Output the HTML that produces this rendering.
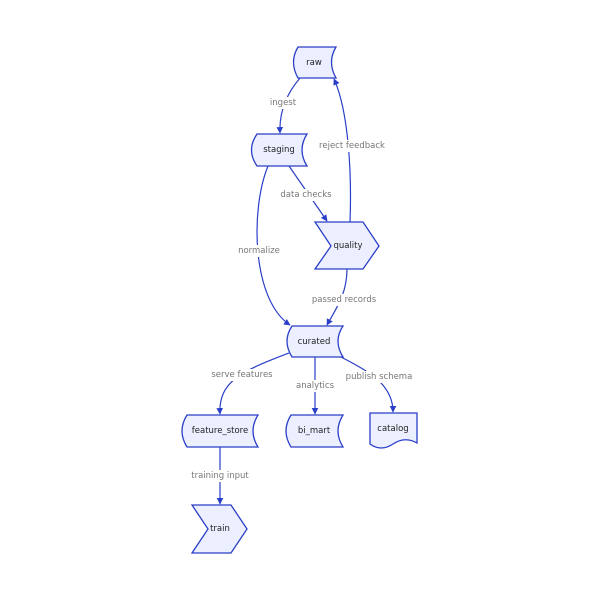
<!DOCTYPE html>
<html><head><meta charset="utf-8"><style>
html,body{margin:0;padding:0;background:#fff;}
svg{display:block;font-family:"DejaVu Sans","Liberation Sans",sans-serif;}
.n{fill:#ecefff;stroke:#2a3fc8;stroke-width:1.3;}
.e{fill:none;stroke:#2a3fc8;stroke-width:1.2;}
.t{font-size:8.5px;fill:#222;text-anchor:middle;dominant-baseline:central;}
.l{font-size:8.5px;fill:#777;text-anchor:middle;dominant-baseline:central;}
.lb{fill:#fff;}
</style></head><body>
<svg width="600" height="600" viewBox="0 0 600 600" xmlns="http://www.w3.org/2000/svg">
<defs><marker id="a" viewBox="0 0 10 10" refX="9" refY="5" markerWidth="5.5" markerHeight="5.5" orient="auto"><path d="M0,0L10,5L0,10z" fill="#2a3fc8"/></marker></defs>
<path class="e" d="M300,78 C288,92 279,110 280,133" marker-end="url(#a)"/>
<path class="e" d="M289,166 L327,221" marker-end="url(#a)"/>
<path class="e" d="M350,222 C352,170 348,110 334,79" marker-end="url(#a)"/>
<path class="e" d="M268,166 C250,210 252,300 290,325" marker-end="url(#a)"/>
<path class="e" d="M347,269 C347,295 335,310 327,325" marker-end="url(#a)"/>
<path class="e" d="M289,353 C245,370 218,380 220,414" marker-end="url(#a)"/>
<path class="e" d="M315,357 L315,414" marker-end="url(#a)"/>
<path class="e" d="M341,357 C370,372 393,385 393,412" marker-end="url(#a)"/>
<path class="e" d="M220,447 L220,504" marker-end="url(#a)"/>
<rect class="lb" x="268" y="97" width="30" height="12"/><text class="l" x="283" y="103">ingest</text>
<rect class="lb" x="281" y="189" width="50" height="12"/><text class="l" x="306" y="195">data checks</text>
<rect class="lb" x="320" y="140" width="64" height="12"/><text class="l" x="352" y="146">reject feedback</text>
<rect class="lb" x="238" y="245" width="42" height="12"/><text class="l" x="259" y="251">normalize</text>
<rect class="lb" x="312" y="294" width="64" height="12"/><text class="l" x="344" y="300">passed records</text>
<rect class="lb" x="211" y="369" width="62" height="12"/><text class="l" x="242" y="375">serve features</text>
<rect class="lb" x="295" y="380" width="40" height="12"/><text class="l" x="315" y="386">analytics</text>
<rect class="lb" x="347" y="371" width="64" height="12"/><text class="l" x="379" y="377">publish schema</text>
<rect class="lb" x="192" y="470" width="56" height="12"/><text class="l" x="220" y="476">training input</text>
<path class="n" d="M298,47 L336,47 Q327,62 336,78 L298,78 Q289,62 298,47z"/><text class="t" x="314" y="63">raw</text>
<path class="n" d="M257,134 L307,134 Q297,150 307,166 L257,166 Q246,150 257,134z"/><text class="t" x="279" y="150">staging</text>
<path class="n" d="M315,222 L363,222 L379,246 L363,269 L315,269 L331,246z"/><text class="t" x="348" y="246">quality</text>
<path class="n" d="M292,326 L343,326 Q333,341 343,357 L292,357 Q282,341 292,326z"/><text class="t" x="314" y="342">curated</text>
<path class="n" d="M187,415 L258,415 Q248,431 258,447 L187,447 Q177,431 187,415z"/><text class="t" x="220" y="431">feature_store</text>
<path class="n" d="M291,415 L343,415 Q333,431 343,447 L291,447 Q281,431 291,415z"/><text class="t" x="314" y="431">bi_mart</text>
<path class="n" d="M370,413 L417,413 L417,443 Q405,436 393,444 Q381,452 370,444z"/><text class="t" x="393" y="429">catalog</text>
<path class="n" d="M192,505 L231,505 L247,529 L231,553 L192,553 L208,529z"/><text class="t" x="220" y="529">train</text>
</svg>
</body></html>
